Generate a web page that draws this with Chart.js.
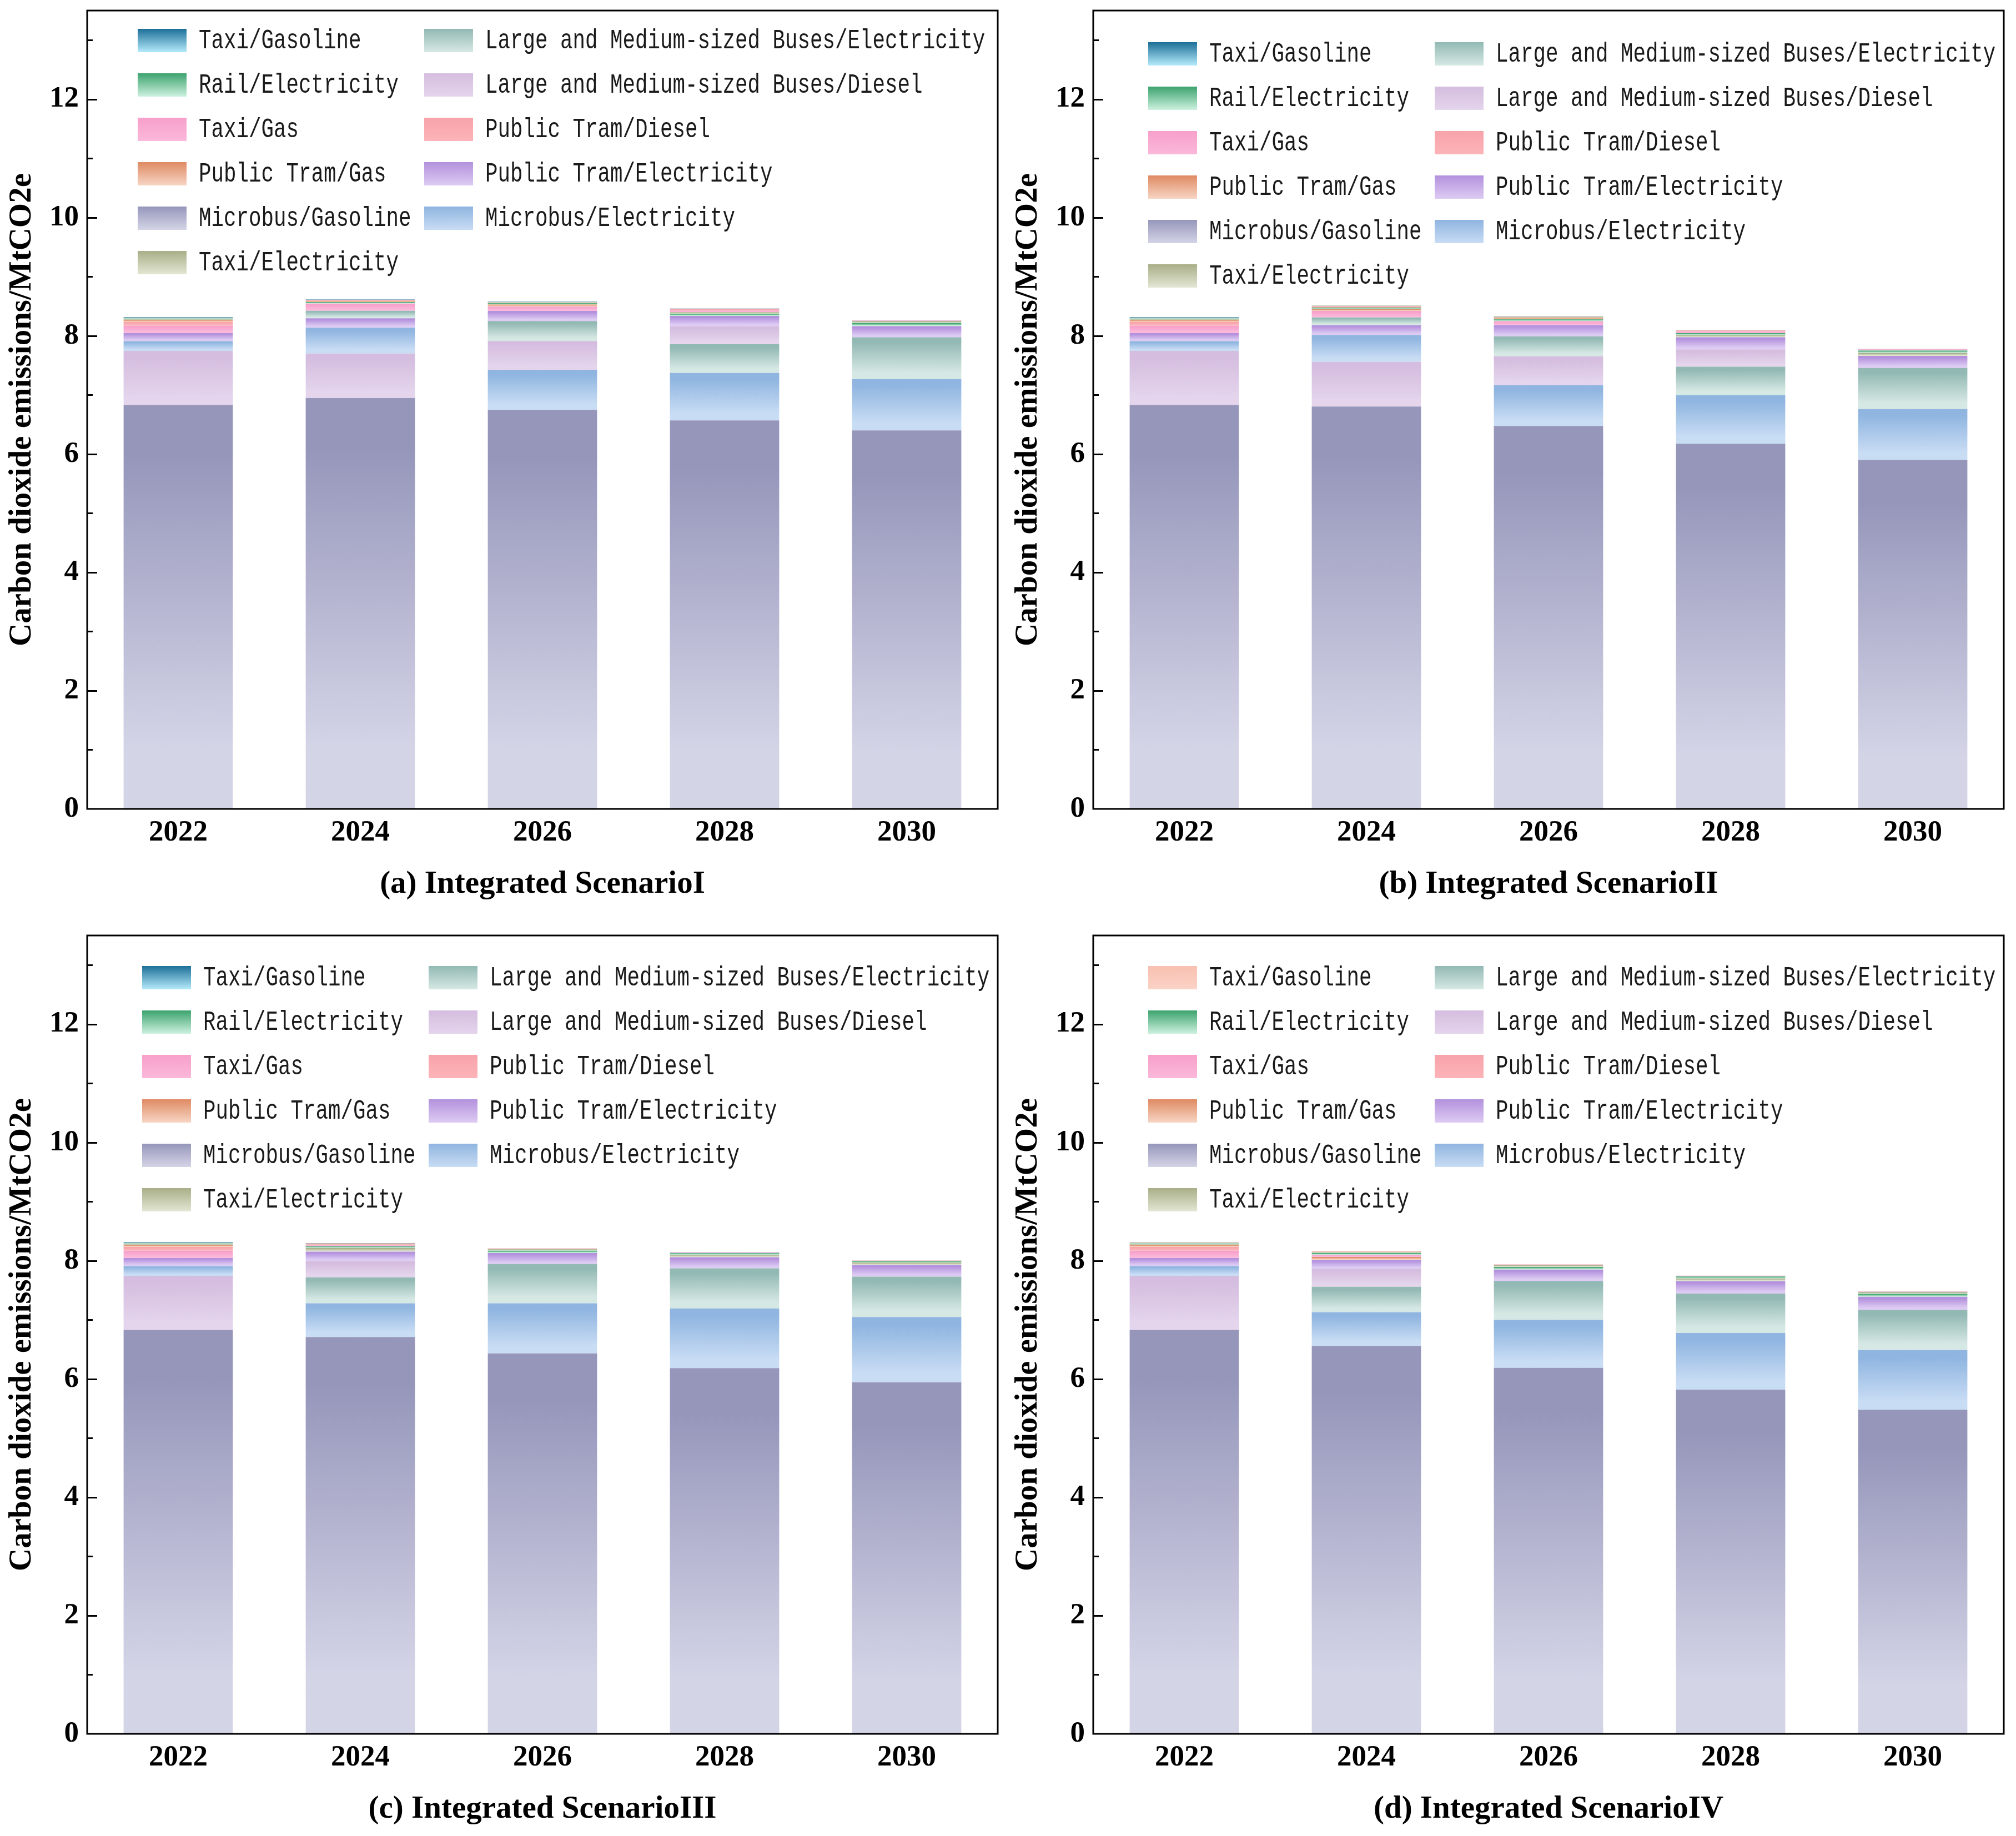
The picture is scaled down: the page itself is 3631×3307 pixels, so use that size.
<!DOCTYPE html>
<html>
<head>
<meta charset="utf-8">
<title>Carbon dioxide emissions by integrated scenario</title>
<script src="https://cdn.jsdelivr.net/npm/chart.js@4.4.1/dist/chart.umd.min.js"></script>
<style>
  html, body { margin: 0; padding: 0; background: #ffffff; }
  #page { position: relative; width: 3631px; height: 3307px; overflow: hidden; background: #ffffff; }
  .panel { position: absolute; width: 1815px; height: 1640px; }
</style>
</head>
<body>
<div id="page">
  <div class="panel" id="panelA" style="left:0px;top:0px"></div>
  <div class="panel" id="panelB" style="left:1812px;top:0px"></div>
  <div class="panel" id="panelC" style="left:0px;top:1666px"></div>
  <div class="panel" id="panelD" style="left:1812px;top:1666px"></div>
</div>
<script>
// categories and tick labels
const years = ['2022', '2024', '2026', '2028', '2030'];
const yTicks = [0, 2, 4, 6, 8, 10, 12];
const seriesNames = [
  'Taxi/Gasoline',
  'Rail/Electricity',
  'Taxi/Gas',
  'Public Tram/Gas',
  'Microbus/Gasoline',
  'Taxi/Electricity',
  'Large and Medium-sized Buses/Electricity',
  'Large and Medium-sized Buses/Diesel',
  'Public Tram/Diesel',
  'Public Tram/Electricity',
  'Microbus/Electricity'
];

// MtCO2e, one row per series (same order as seriesNames), one column per year
const scenarioI = [
  [0.010, 0.005, 0.004, 0.005, 0.001], // Taxi/Gasoline
  [0.014, 0.025, 0.022, 0.035, 0.053], // Rail/Electricity
  [0.125, 0.122, 0.074, 0.028, 0.004], // Taxi/Gas
  [0.028, 0.018, 0.036, 0.008, 0.002], // Public Tram/Gas
  [6.830, 6.947, 6.748, 6.569, 6.400], // Microbus/Gasoline
  [0.016, 0.007, 0.015, 0.030, 0.035], // Taxi/Electricity
  [0.012, 0.128, 0.338, 0.487, 0.708], // Buses/Electricity
  [0.915, 0.753, 0.487, 0.306, 0.005], // Buses/Diesel
  [0.065, 0.012, 0.005, 0.020, 0.002], // Public Tram/Diesel
  [0.135, 0.158, 0.170, 0.172, 0.189], // Public Tram/Electricity
  [0.165, 0.438, 0.677, 0.802, 0.867]  // Microbus/Electricity
];
const scenarioII = [
  [0.010, 0.006, 0.003, 0.004, 0.001],
  [0.014, 0.028, 0.030, 0.032, 0.040],
  [0.125, 0.110, 0.068, 0.025, 0.008],
  [0.028, 0.030, 0.028, 0.008, 0.004],
  [6.830, 6.805, 6.475, 6.176, 5.900],
  [0.016, 0.010, 0.016, 0.038, 0.050],
  [0.012, 0.130, 0.336, 0.484, 0.695],
  [0.915, 0.755, 0.490, 0.292, 0.012],
  [0.065, 0.022, 0.005, 0.018, 0.002],
  [0.135, 0.167, 0.190, 0.205, 0.204],
  [0.165, 0.453, 0.689, 0.818, 0.861]
];
const scenarioIII = [
  [0.010, 0.004, 0.000, 0.001, 0.000],
  [0.014, 0.030, 0.040, 0.028, 0.028],
  [0.125, 0.025, 0.003, 0.005, 0.002],
  [0.028, 0.014, 0.002, 0.002, 0.001],
  [6.830, 6.709, 6.434, 6.184, 5.944],
  [0.016, 0.063, 0.028, 0.040, 0.042],
  [0.012, 0.438, 0.663, 0.678, 0.684],
  [0.915, 0.278, 0.005, 0.010, 0.004],
  [0.065, 0.008, 0.001, 0.001, 0.001],
  [0.135, 0.156, 0.187, 0.188, 0.197],
  [0.165, 0.572, 0.847, 1.010, 1.103]
];
const scenarioIV = [
  [0.010, 0.005, 0.000, 0.000, 0.000],
  [0.014, 0.030, 0.045, 0.032, 0.050],
  [0.125, 0.035, 0.004, 0.003, 0.003],
  [0.028, 0.050, 0.002, 0.002, 0.002],
  [6.830, 6.560, 6.190, 5.820, 5.480],
  [0.016, 0.020, 0.030, 0.045, 0.032],
  [0.012, 0.430, 0.660, 0.666, 0.680],
  [0.915, 0.305, 0.006, 0.008, 0.006],
  [0.065, 0.008, 0.001, 0.001, 0.001],
  [0.135, 0.150, 0.190, 0.212, 0.220],
  [0.165, 0.570, 0.810, 0.958, 1.010]
];

// gradient colours, top (dark) and bottom (light) of each segment
const colorTop = ['#1d6f98', '#3ca36e', '#f7a0cb', '#df8a62', '#9696bb', '#a9ae88',
                  '#93b9b4', '#d5bddf', '#f7a3aa', '#b391dd', '#8fb5e0'];
const colorBottom = ['#b5ebfb', '#cdf1df', '#fbb8da', '#f7d5c4', '#d4d4e7', '#e3e6d3',
                     '#d6e8e4', '#e4d4ec', '#fcb4b8', '#ddcbf3', '#c8dcf4'];
// panel (d) draws Taxi/Gasoline in peach
const colorTopD = colorTop.slice();
const colorBottomD = colorBottom.slice();
colorTopD[0] = '#f8c0b0';
colorBottomD[0] = '#fbd3c7';

const serifFont = "'Liberation Serif', 'Times New Roman', serif";
const monoFont = "'Liberation Mono', 'Courier New', monospace";

class stackedEmissionChart {
  constructor(inDOM, inRows, inTitle, inLegend, inColorTop, inColorBottom) {
    this.parent = inDOM;
    //create a new canvas inside parent
    this.canvas = document.createElement('canvas');
    this.parent.appendChild(this.canvas);
    this.canvas.width = this.parent.clientWidth;
    this.canvas.height = this.parent.clientHeight;

    this.rows = inRows;
    this.title = inTitle;
    this.legend = inLegend;
    this.colorTop = inColorTop;
    this.colorBottom = inColorBottom;

    this.generateData();
    this.generateConfig();
    this.chart = new Chart(this.canvas, this.config);
  }
  generateData() {
    //every bar is stacked largest to smallest, so sort the series per year
    this.stack = [];
    for (let i = 0; i < years.length; i++) {
      let order = this.rows.map((row, s) => ({series: s, value: row[i]}));
      order.sort((a, b) => b.value - a.value);
      let base = 0;
      for (let r = 0; r < order.length; r++) {
        order[r].start = base;
        base += order[r].value;
        order[r].end = base;
      }
      this.stack.push(order);
    }
    this.datasets = [];
    for (let r = 0; r < seriesNames.length; r++) {
      this.datasets.push({
        label: 'rank ' + (r + 1),
        data: this.stack.map(bar => bar[r].value),
        backgroundColor: (ctx) => this.segmentFill(ctx),
        borderWidth: 0,
        barPercentage: 0.6,
        categoryPercentage: 1.0,
      });
    }
    this.data = {
      labels: years,
      datasets: this.datasets,
    };
  }
  segmentFill(ctx) {
    if (ctx.dataIndex === undefined) {
      return '#cccccc';
    }
    const seg = this.stack[ctx.dataIndex][ctx.datasetIndex];
    const chart = ctx.chart;
    const yScale = chart.scales.y;
    if (!chart.chartArea || !yScale) {
      return this.colorTop[seg.series];
    }
    const top = yScale.getPixelForValue(seg.end);
    const bottom = yScale.getPixelForValue(seg.start);
    if (!(bottom - top > 0.5)) {
      return this.colorTop[seg.series];
    }
    const g = chart.ctx.createLinearGradient(0, top, 0, bottom);
    g.addColorStop(0, this.colorTop[seg.series]);
    g.addColorStop(0.12, this.colorTop[seg.series]);
    g.addColorStop(0.85, this.colorBottom[seg.series]);
    g.addColorStop(1, this.colorBottom[seg.series]);
    return g;
  }
  generateConfig() {
    const self = this;
    //frame, inward y ticks and the two-column legend
    const framePlugin = {
      id: 'frameAndLegend',
      afterDraw(chart) {
        const c = chart.ctx;
        const area = chart.chartArea;
        const yScale = chart.scales.y;
        c.save();
        c.strokeStyle = '#000000';
        c.lineWidth = 3;
        c.strokeRect(area.left, area.top, area.right - area.left, area.bottom - area.top);
        for (let v = 1; v <= 13; v++) {
          const py = Math.round(yScale.getPixelForValue(v)) + 0.5;
          const len = (v % 2 === 0) ? 18 : 10;
          c.beginPath();
          c.moveTo(area.left, py);
          c.lineTo(area.left + len, py);
          c.stroke();
        }
        //legend
        const lg = self.legend;
        for (let k = 0; k < seriesNames.length; k++) {
          const col = k < 6 ? 0 : 1;
          const row = k < 6 ? k : k - 6;
          const sx = lg.x + col * 516;
          const cy = lg.y + row * 80;
          const g = c.createLinearGradient(0, cy - 21, 0, cy + 21);
          g.addColorStop(0, self.colorTop[k]);
          g.addColorStop(1, self.colorBottom[k]);
          c.fillStyle = g;
          c.fillRect(sx, cy - 21, 88, 42);
          c.save();
          c.translate(sx + 110, cy + 1);
          c.scale(0.75, 1);
          c.fillStyle = '#1a1a1a';
          c.font = '50px ' + monoFont;
          c.textBaseline = 'middle';
          c.textAlign = 'left';
          c.fillText(seriesNames[k], 0, 0);
          c.restore();
        }
        c.restore();
      }
    };
    this.config = {
      type: 'bar',
      data: this.data,
      plugins: [framePlugin],
      options: {
        responsive: false,
        maintainAspectRatio: false,
        animation: false,
        events: [],
        layout: {
          padding: {left: 0, right: 18, top: 19, bottom: 13}
        },
        plugins: {
          legend: {display: false},
          tooltip: {enabled: false},
          title: {display: false}
        },
        scales: {
          x: {
            stacked: true,
            grid: {display: false, drawTicks: false},
            border: {display: false},
            ticks: {
              color: '#000000',
              padding: 12,
              font: {family: serifFont, size: 53, weight: 'bold'}
            },
            title: {
              display: true,
              text: this.title,
              color: '#000000',
              padding: {top: 0, bottom: 0},
              font: {family: serifFont, size: 57, weight: 'bold'}
            },
            afterFit(scale) {
              scale.height = 170;
              scale.paddingLeft = 0;
              scale.paddingRight = 0;
            }
          },
          y: {
            stacked: true,
            min: 0,
            max: 13.5,
            grid: {display: false, drawTicks: false},
            border: {display: false},
            afterBuildTicks(scale) { scale.ticks = yTicks.map(v => ({value: v})); },
            ticks: {
              color: '#000000',
              padding: 15,
              includeBounds: false,
              font: {family: serifFont, size: 53, weight: 'bold'}
            },
            title: {
              display: true,
              text: 'Carbon dioxide emissions/MtCO2e',
              color: '#000000',
              padding: {top: 6, bottom: 0},
              font: {family: serifFont, size: 57, weight: 'bold'}
            },
            afterFit(scale) {
              scale.width = 157;
              scale.paddingTop = 0;
              scale.paddingBottom = 0;
            }
          }
        }
      }
    };
  }
}

new stackedEmissionChart(document.getElementById('panelA'), scenarioI,
  '(a) Integrated ScenarioI', {x: 248, y: 73}, colorTop, colorBottom);
new stackedEmissionChart(document.getElementById('panelB'), scenarioII,
  '(b) Integrated ScenarioII', {x: 256, y: 97}, colorTop, colorBottom);
new stackedEmissionChart(document.getElementById('panelC'), scenarioIII,
  '(c) Integrated ScenarioIII', {x: 256, y: 95}, colorTop, colorBottom);
new stackedEmissionChart(document.getElementById('panelD'), scenarioIV,
  '(d) Integrated ScenarioIV', {x: 256, y: 95}, colorTopD, colorBottomD);
</script>
</body>
</html>
